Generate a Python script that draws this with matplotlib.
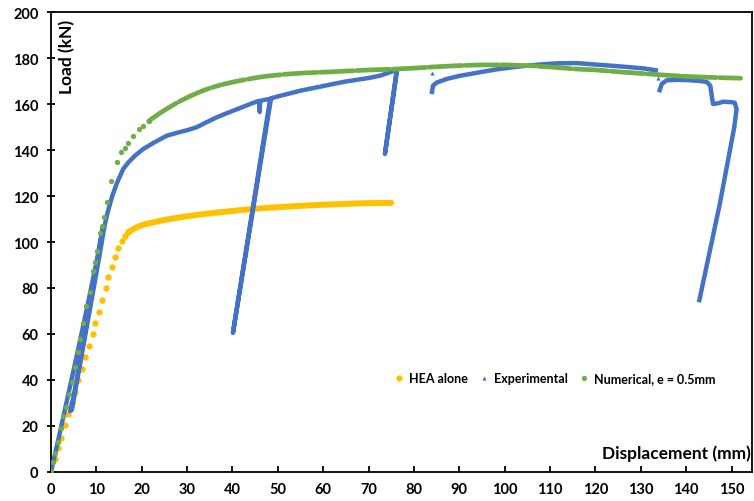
import numpy as np
import matplotlib
matplotlib.use("Agg")
import matplotlib.pyplot as plt
from matplotlib.lines import Line2D

plt.rcParams['font.family'] = ['Lato', 'DejaVu Sans']
plt.rcParams['font.weight'] = 'bold'

# ---------------- data ----------------
# HEA alone (orange dots)
hea_x = [0, 0.9, 1.6, 2.3, 3.1, 3.8, 4.6, 5.3, 6.0, 6.8, 7.6, 8.4, 9.2, 9.8, 10.6, 11.2,
         12.1, 12.6, 13.4, 14.1, 14.8, 15.6, 16.3, 17.0]
hea_y = [0.5, 5.7, 10.3, 15.0, 20.4, 25.2, 30.0, 35.0, 40.0, 45.0, 50.0, 54.9, 60.0, 65.0,
         69.7, 74.9, 79.9, 84.6, 89.3, 93.3, 97.2, 100.3, 102.5, 104.2]
hea_dense_x = [17.0, 18, 19, 20, 22, 25, 28, 30, 33, 36, 40, 44, 48, 52, 56, 60, 65, 70, 75]
hea_dense_y = [104.2, 105.5, 106.5, 107.3, 108.3, 109.6, 110.6, 111.2, 112.0, 112.7, 113.5,
               114.3, 114.9, 115.4, 115.8, 116.2, 116.6, 116.9, 117.0]

# Numerical, e = 0.5mm (green dots)
num_x = [0, 0.4, 0.9, 1.5, 2.1, 2.7, 3.3, 4.0, 4.7, 5.3, 6.0, 6.4, 7.1, 7.7, 8.6, 9.3, 9.7,
         10.2, 10.9, 11.2, 11.7, 12.4, 13.3, 14.6, 15.4, 16.3, 17.0, 18.0, 19.3, 20.3, 21.5]
num_y = [0.5, 4.2, 8.3, 12.9, 19.0, 24.5, 28.4, 33.9, 39.0, 45.5, 52.3, 57.8, 65.0, 72.3,
         78.4, 87.5, 91.2, 96.2, 103.9, 106.8, 110.7, 117.5, 126.7, 134.6, 139.0, 141.0,
         143.0, 146.0, 149.0, 150.5, 152.5]
num_dense_x = [21.5, 22, 24, 26, 28, 30, 32, 34, 36, 38, 40, 42, 44, 46, 48, 50, 52, 55, 58,
               62, 66, 70, 75, 80, 85, 90, 95, 100, 105, 110, 115, 120, 125, 130, 135, 140,
               145, 150, 152]
num_dense_y = [152.5, 153.3, 156.0, 158.5, 160.8, 162.8, 164.6, 166.2, 167.5, 168.6, 169.5,
               170.3, 171.0, 171.7, 172.2, 172.6, 173.0, 173.4, 173.7, 174.0, 174.4, 174.8,
               175.1, 175.6, 176.2, 176.7, 177.0, 177.0, 176.7, 176.1, 175.3, 174.8, 174.0,
               173.3, 172.6, 172.0, 171.6, 171.3, 171.2]

# Experimental (blue, dense triangles forming a line) -- NaN marks a gap in the record
exp_x = [0, 2, 4, 6, 8, 10, 11.4,
         9.5, 7, 5, 4.2,
         4.6, 6.5, 8.5, 10.5, 11.8, 12.5, 13.5, 14.5, 15.9, 17, 18.5, 20.3, 22.5, 25.5, 28,
         30, 32.1, 34, 36.5, 39, 42, 43.9, 45.7, 45.9, 46.0, 46.1, 47, 48.3,
         40.1, 48.5,
         50, 55, 60, 62.2, 65, 70, 72.5, 76.2,
         73.6, 76.3,
         np.nan,
         83.9, 84.2, 85, 87.2, 90, 94.5, 98, 101.9, 105, 109.2, 112, 115.8, 119, 123.2, 127,
         130.5, 133.8,
         np.nan,
         134.0, 134.6, 135.7, 138, 140.1, 143, 144.5, 145.3, 145.6, 145.9, 147, 148.1, 150,
         150.7, 151.1, 150.6, 147.4, 142.8]
exp_y = [0, 17.5, 35.5, 53.5, 72, 91, 106,
         83, 55, 33, 26.5,
         27, 48, 70, 92, 107, 113, 120, 125.5, 131.7, 134.5, 137.5, 140.4, 143, 146.2, 147.6,
         148.6, 149.9, 151.8, 154.2, 156.2, 158.5, 160, 161.3, 161.3, 156.5, 161.3, 161.8, 162.2,
         60.5, 162.5,
         163.3, 165.8, 167.8, 168.7, 169.8, 171.3, 172.3, 174.8,
         138.3, 175,
         np.nan,
         164.3, 168, 169.3, 170.9, 172.2, 173.8, 175, 176, 176.7, 177.4, 177.7, 177.8, 177.3,
         176.7, 176.1, 175.5, 174.5,
         np.nan,
         165.1, 168.7, 170.3, 170.5, 170.4, 170, 169.6, 168, 164, 160, 160.3, 161, 160.8,
         160.5, 157.8, 150, 116.5, 73.8]
exp_iso_x = [83.9, 133.8]
exp_iso_y = [173.3, 171.2]

x_ticks = list(range(0, 151, 10))
y_ticks = list(range(0, 201, 20))

labels = ["HEA alone", "Experimental", "Numerical, e = 0.5mm"]
c_hea, c_exp, c_num = "#FFC000", "#4472C4", "#70AD47"

# ---------------- figure ----------------
fig = plt.figure(figsize=(7.54, 5.02), dpi=100)
ax = fig.add_axes([51/754, 1-473/502, 701/754, 460/502])

ax.plot(hea_x, hea_y, 'o', color=c_hea, ms=4.6, mec='none', zorder=2)
ax.plot(hea_dense_x, hea_dense_y, '-', color=c_hea, lw=4.3, solid_capstyle='round', zorder=2)

ax.plot(exp_x, exp_y, '-', color=c_exp, lw=3.2, solid_capstyle='butt',
        solid_joinstyle='round', zorder=3)
ax.plot(exp_iso_x, exp_iso_y, '^', color=c_exp, ms=3, mec='none', zorder=3)

ax.plot(num_x, num_y, 'o', color=c_num, ms=3.8, mec='none', zorder=4)
ax.plot(num_dense_x, num_dense_y, color=c_num, lw=3.4, dashes=(7, 0.7),
        dash_capstyle='round', zorder=4)

ax.set_xlim(0, 154.5)
ax.set_ylim(0, 200)
ax.set_xticks(x_ticks)
ax.set_yticks(y_ticks)

for s in ax.spines.values():
    s.set_linewidth(1.3)
ax.tick_params(axis='x', direction='in', length=4, width=1.3, pad=7, labelsize=10.5)
ax.tick_params(axis='y', direction='inout', length=6, width=1.3, pad=6, labelsize=10.5)
for lab in ax.get_xticklabels() + ax.get_yticklabels():
    lab.set_fontweight('bold')

ax.text(0.023, 0.985, "Load (kN)", rotation=90, ha='center', va='top',
        transform=ax.transAxes, fontsize=12.5, fontweight='bold')
ax.text(0.999, 0.043, "Displacement (mm)", ha='right', va='center',
        transform=ax.transAxes, fontsize=12.5, fontweight='bold')

handles = [Line2D([], [], ls='none', marker='o', color=c_hea, ms=4.5, mec='none'),
           Line2D([], [], ls='none', marker='^', color=c_exp, ms=3, mec='none'),
           Line2D([], [], ls='none', marker='o', color=c_num, ms=3.8, mec='none')]
leg = ax.legend(handles, labels, loc='center', bbox_to_anchor=(0.719, 0.204), ncol=3,
                frameon=False, handlelength=0.8, handletextpad=0.4, columnspacing=0.9,
                prop={'weight': 'bold', 'size': 9})

fig.savefig("out.png", dpi=100)
